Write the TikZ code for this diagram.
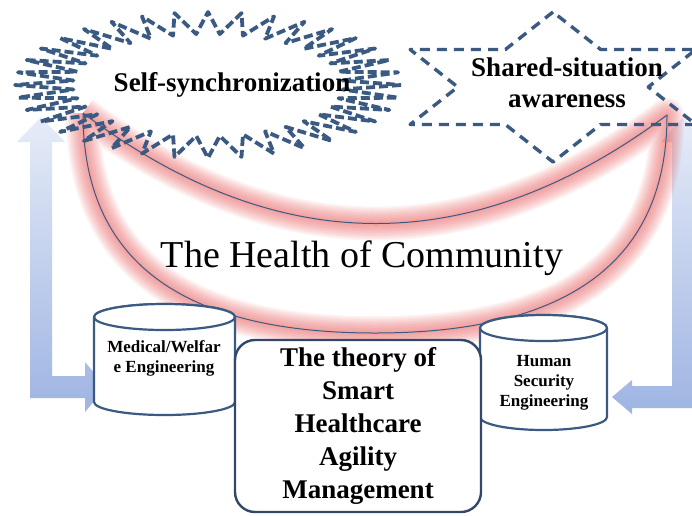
\documentclass[tikz,border=0pt]{standalone}
\usepackage{fontspec}
\setmainfont{Liberation Serif}
\usetikzlibrary{positioning}

\definecolor{outline}{RGB}{59,90,130}
\definecolor{boxline}{RGB}{50,72,102}
\definecolor{arrowtop}{RGB}{230,236,248}
\definecolor{arrowbot}{RGB}{158,180,226}
\definecolor{glow}{RGB}{232,96,96}

\newcommand{\crescentpath}{(tipL) .. controls (83,260) and (180,333) .. (bot) .. controls (570,333) and (667,260) .. (tipR) .. controls (472,260) and (278,260) .. (tipL)}

\begin{document}
\begin{tikzpicture}[x=1pt, y=-1pt, line join=round,
  headtxt/.style={font=\bfseries\fontsize{27}{31}\selectfont, align=center, inner sep=0pt},
  celltxt/.style={font=\bfseries\fontsize{17}{20}\selectfont, align=center, inner sep=0pt},
  cyl/.style={draw=outline, line width=2.2pt, fill=white}]
\useasboundingbox (0,0) rectangle (692,515);

\shade[top color=arrowtop, bottom color=arrowbot] (41,117) -- (65,142) -- (52,142) -- (52,376) -- (85,376) -- (85,362) -- (106,387) -- (85,412) -- (85,398) -- (30,398) -- (30,142) -- (17,142) -- cycle;
\shade[top color=arrowtop, bottom color=arrowbot] (683,117) -- (705,142) -- (694,142) -- (694,408) -- (632,408) -- (632,414) -- (612,397) -- (632,380) -- (632,386) -- (672,386) -- (672,142) -- (661,142) -- cycle;

\coordinate (tipL) at (83,113);
\coordinate (tipR) at (667,115);
\coordinate (bot) at (375,333);
\foreach \w in {34,31,...,4}
  \draw[glow, line width=\w pt, opacity=0.075] \crescentpath;
\draw[outline, line width=1pt] \crescentpath;

	\tikzset{burstline/.style={draw=outline, line width=3.8pt, dash pattern=on 9pt off 4pt}}
	\tikzset{starline/.style={draw=outline, line width=3.4pt, dash pattern=on 10pt off 7pt}}

\draw[burstline] plot[samples at={0,...,71}] ({208+193*(1-0.3*mod(\x,2))*cos(\x*5)}, {85+73*(1-0.3*mod(\x,2))*sin(\x*5)}) -- cycle;
\draw[starline] plot[samples at={0,...,11}] ({553+165*(1-0.42265*mod(\x,2))*cos(90+\x*30)}, {87-75*(1-0.42265*mod(\x,2))*sin(90+\x*30)}) -- cycle;

\node[headtxt] (selfsync) at (232,85) {Self-synchronization};
\node[headtxt] (shared) at (567,83) {Shared-situation\\awareness};
\node[font=\fontsize{38}{44}\selectfont, inner sep=0pt] (health) at (362,258) {The Health of Community};

\path[cyl] (94,317) -- (94,402) arc[start angle=180, end angle=360, x radius=70.5pt, y radius=13pt] -- (235,317) arc[start angle=0, end angle=180, x radius=70.5pt, y radius=13pt] -- cycle;
\draw[cyl] (164.5,317) ellipse [x radius=70.5pt, y radius=13pt];
\node[celltxt] (medical) at (164,358) {Medical/Welfar\\e Engineering};

\path[cyl] (480,328) -- (480,417) arc[start angle=180, end angle=360, x radius=63.5pt, y radius=13pt] -- (607,328) arc[start angle=0, end angle=180, x radius=63.5pt, y radius=13pt] -- cycle;
\draw[cyl] (543.5,328) ellipse [x radius=63.5pt, y radius=13pt];
\node[celltxt] (human) at (544,383) {Human\\Security\\Engineering};

\node[draw=boxline, line width=2.4pt, rounded corners=20pt, fill=white, minimum width=246pt, minimum height=172pt, align=center, font=\bfseries\fontsize{27}{33}\selectfont] (theory) at (358,426) {The theory of\\Smart\\Healthcare\\Agility\\Management};

\end{tikzpicture}
\end{document}
